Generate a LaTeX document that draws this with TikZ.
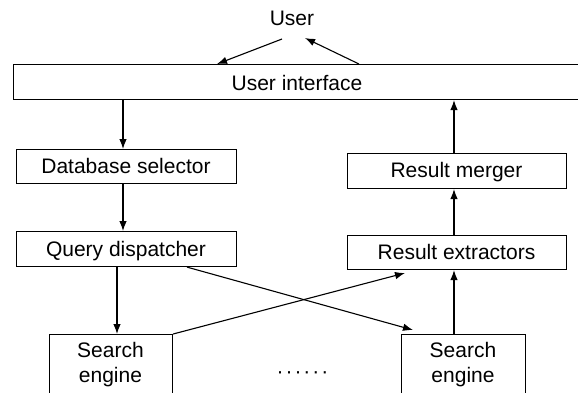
\documentclass[tikz,border=0pt]{standalone}
\usepackage{fontspec}
\setmainfont{Liberation Sans}
\usetikzlibrary{arrows.meta}
\begin{document}
\begin{tikzpicture}[x=1pt,y=-1pt,
  box/.style={draw,line width=1.1pt,inner sep=0pt,anchor=north west},
  arr/.style={line width=1.1pt,-{Latex[length=10pt,width=7.5pt]}},
  lbl/.style={font=\fontsize{21}{25}\selectfont,inner sep=0pt,anchor=base}]
\useasboundingbox (0,0) rectangle (578,392);
\clip (0,0) rectangle (578,392);
\node[lbl] (user) at (292,25) {User};
\node[box,minimum width=566pt,minimum height=35pt] (ui) at (13,64) {};
\node[lbl] (uit) at (297,90) {User interface};
\node[box,minimum width=220pt,minimum height=34pt] (ds) at (16,149) {};
\node[lbl] (dst) at (126,173) {Database selector};
\node[box,minimum width=220pt,minimum height=35pt] (qd) at (16,231) {};
\node[lbl] (qdt) at (126,256) {Query dispatcher};
\node[box,minimum width=219pt,minimum height=35pt] (rm) at (347,153) {};
\node[lbl] (rmt) at (456.5,177.5) {Result merger};
\node[box,minimum width=219pt,minimum height=34pt] (re) at (347,235) {};
\node[lbl] (ret) at (456.5,259) {Result extractors};
\node[box,minimum width=123pt,minimum height=80pt] (se1) at (49,334) {};
\node[lbl] (se1a) at (110.5,357) {Search};
\node[lbl] (se1b) at (110.5,382) {engine};
\node[box,minimum width=124pt,minimum height=80pt] (se2) at (401,334) {};
\node[lbl] (se2a) at (463,357) {Search};
\node[lbl] (se2b) at (463,382) {engine};
\node[font=\fontsize{21}{25}\selectfont,inner sep=0pt] (dots) at (302.5,375) {\textperiodcentered\hspace{2pt}\textperiodcentered\hspace{2pt}\textperiodcentered\hspace{2pt}\textperiodcentered\hspace{2pt}\textperiodcentered\hspace{2pt}\textperiodcentered};
\coordinate (u1) at (282,39);
\coordinate (u2) at (305,38);
\draw[arr] (u1) -- (ui.north west -| 217,0);
\draw[arr] (ui.north west -| 359,0) -- (u2);
\draw[arr] (ui.south west -| 123,0) -- (ds.north west -| 123,0);
\draw[arr] (ds.south west -| 123,0) -- (qd.north west -| 123,0);
\draw[arr] (rm.north west -| 454,0) -- (ui.south west -| 454,0);
\draw[arr] (re.north west -| 454,0) -- (rm.south west -| 454,0);
\draw[arr] (se2.north west -| 454,0) -- (re.south west -| 454,0);
\draw[arr] (qd.south west -| 117,0) -- (se1.north west -| 117,0);
\coordinate (t1) at (413,330);
\coordinate (t2) at (405,273);
\draw[arr] (qd.south west -| 187,0) -- (t1);
\draw[arr] (se1.north east) -- (t2);
\end{tikzpicture}
\end{document}
